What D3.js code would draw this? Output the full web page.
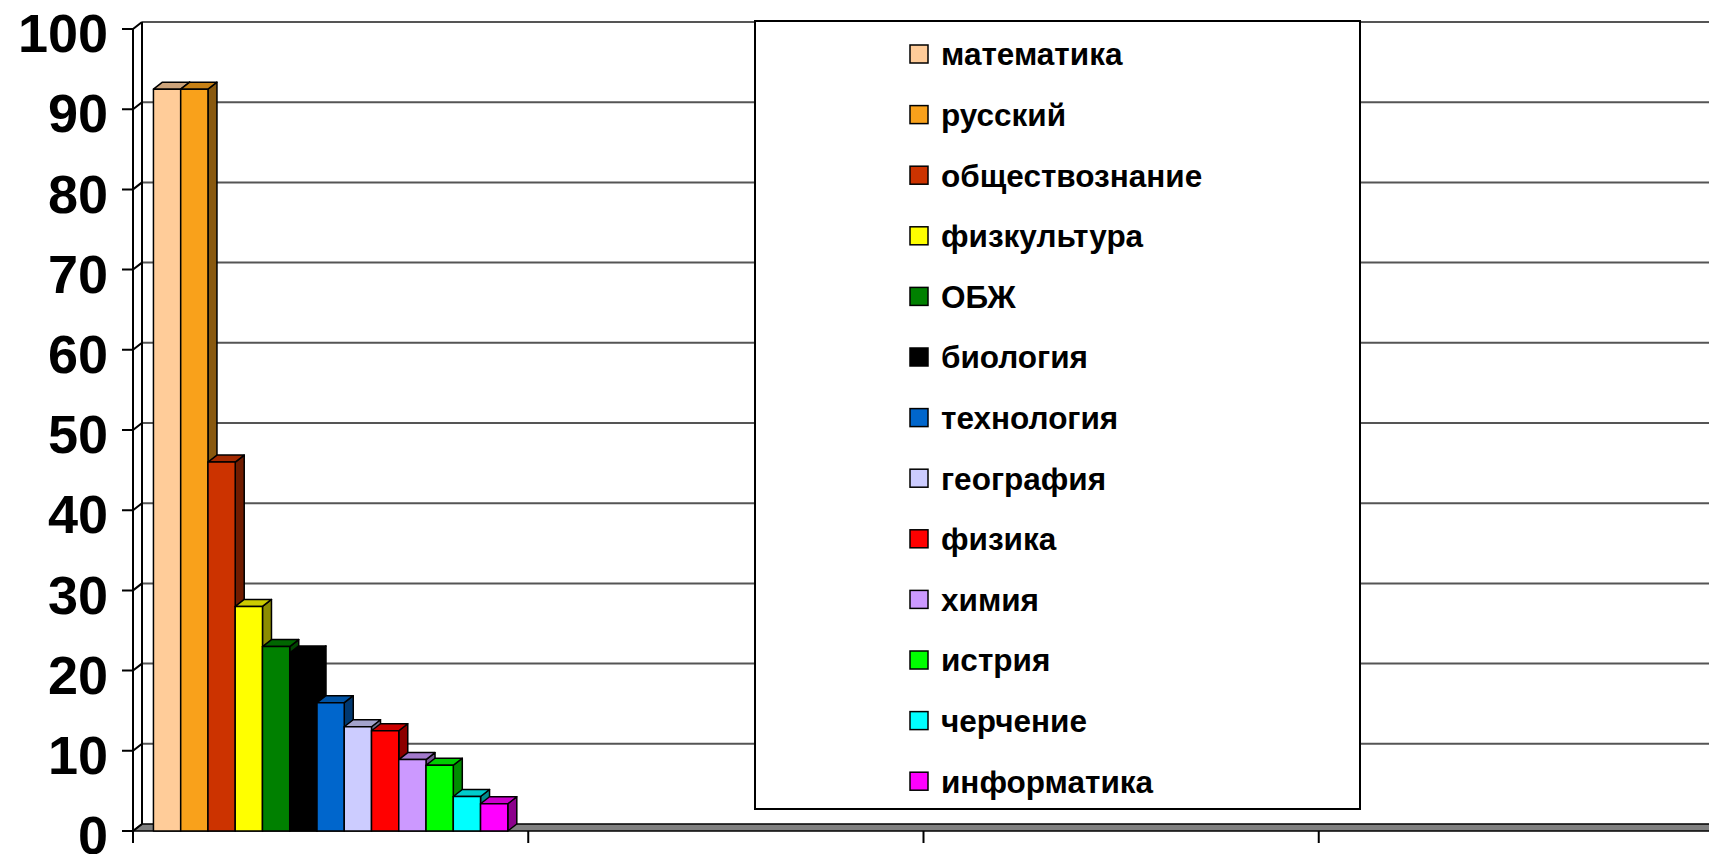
<!DOCTYPE html>
<html>
<head>
<meta charset="utf-8">
<script src="https://cdn.jsdelivr.net/npm/d3@7"></script>
<style>
  body { margin: 0; padding: 0; background: #fff; overflow: hidden; }
  svg { display: block; }
</style>
</head>
<body>
<script>
// 3D-style column chart: subjects in the first category group
const subjects = ["математика", "русский", "обществознание", "физкультура", "ОБЖ", "биология",
  "технология", "география", "физика", "химия", "истрия", "черчение", "информатика"];
const values = [92.5, 92.5, 46, 28, 23, 22.2, 16, 13, 12.5, 8.9, 8.2, 4.3, 3.4];
const colors = ["#FFCC99", "#F9A11B", "#CC3300", "#FFFF00", "#008000", "#000000",
  "#0066CC", "#CCCCFF", "#FF0000", "#CC99FF", "#00FF00", "#00FFFF", "#FF00FF"];
const categories = ["1", "2", "3", "4"];
const yTicks = [0, 10, 20, 30, 40, 50, 60, 70, 80, 90, 100];

const width = 1709, height = 854;
const dx = 9, dy = -7; // depth offset of the 3d box

const svg = d3.select("body").append("svg")
  .attr("width", width)
  .attr("height", height);

const y = d3.scaleLinear().domain([0, 100]).range([831, 29]);
const x = d3.scaleBand().domain(categories).range([133, 1714]);
const xSub = d3.scaleBand().domain(subjects).range([0, x.bandwidth()]).paddingOuter(0.75);
const color = d3.scaleOrdinal().domain(subjects).range(colors);

const x0 = x.range()[0];

// gridlines on the back wall
svg.append("g").selectAll("line")
  .data(yTicks.filter(d => d > 0))
  .join("line")
  .attr("x1", x0 + dx).attr("x2", width)
  .attr("y1", d => y(d) + dy).attr("y2", d => y(d) + dy)
  .attr("stroke", "#555").attr("stroke-width", 2);

// floor
svg.append("polygon")
  .attr("points", [[x0, y(0)], [width + 20, y(0)], [width + 20 + dx, y(0) + dy], [x0 + dx, y(0) + dy]].join(" "))
  .attr("fill", "#808080").attr("stroke", "#000").attr("stroke-width", 1.5);

// side wall
const wall = svg.append("g").attr("stroke", "#000").attr("stroke-width", 2).attr("fill", "none");
wall.append("line").attr("x1", x0).attr("x2", x0).attr("y1", y(100)).attr("y2", y(0) + 12);
wall.append("line").attr("x1", x0 + dx).attr("x2", x0 + dx).attr("y1", y(100) + dy).attr("y2", y(0) + dy);
wall.selectAll("path.tk")
  .data(yTicks)
  .join("path")
  .attr("class", "tk")
  .attr("d", d => `M${x0 - 11},${y(d)}H${x0}L${x0 + dx},${y(d) + dy}`);

// category axis ticks
svg.append("g").selectAll("line")
  .data(categories)
  .join("line")
  .attr("x1", d => x(d)).attr("x2", d => x(d))
  .attr("y1", y(0)).attr("y2", y(0) + 12)
  .attr("stroke", "#000").attr("stroke-width", 2);

// y labels
svg.append("g").selectAll("text")
  .data(yTicks)
  .join("text")
  .attr("x", 108)
  .attr("y", d => y(d))
  .attr("dy", "0.43em")
  .attr("text-anchor", "end")
  .attr("font-family", "Liberation Sans, Arial, sans-serif")
  .attr("font-weight", "bold")
  .attr("font-size", 54)
  .attr("fill", "#000")
  .text(d => d);

// bars, drawn left to right so each one hides the side of the previous
const bars = svg.append("g")
  .attr("stroke", "#000").attr("stroke-width", 1.5).attr("stroke-linejoin", "round");

subjects.forEach((s, i) => {
  const v = values[i];
  const bx = x(categories[0]) + xSub(s);
  const bw = xSub.bandwidth();
  const top = y(v), base = y(0);
  const c = d3.color(color(s));
  const g = bars.append("g");
  // side face
  g.append("polygon")
    .attr("points", [[bx + bw, base], [bx + bw, top], [bx + bw + dx, top + dy], [bx + bw + dx, base + dy]].join(" "))
    .attr("fill", d3.rgb(c.r * 0.55, c.g * 0.55, c.b * 0.55));
  // top face
  g.append("polygon")
    .attr("points", [[bx, top], [bx + bw, top], [bx + bw + dx, top + dy], [bx + dx, top + dy]].join(" "))
    .attr("fill", d3.rgb(c.r * 0.8, c.g * 0.8, c.b * 0.8));
  // front face
  g.append("rect")
    .attr("x", bx).attr("y", top)
    .attr("width", bw).attr("height", base - top)
    .attr("fill", c);
});

// legend
const legend = svg.append("g");
legend.append("rect")
  .attr("x", 755).attr("y", 21)
  .attr("width", 605).attr("height", 788)
  .attr("fill", "#fff").attr("stroke", "#000").attr("stroke-width", 2);

const item = legend.selectAll("g.item")
  .data(subjects)
  .join("g")
  .attr("class", "item")
  .attr("transform", (d, i) => `translate(910,${54 + i * 60.6})`);

item.append("rect")
  .attr("x", 0).attr("y", -9)
  .attr("width", 18).attr("height", 18)
  .attr("fill", d => color(d))
  .attr("stroke", "#000").attr("stroke-width", 1.5);

item.append("text")
  .attr("x", 31)
  .attr("y", 0)
  .attr("dy", "0.36em")
  .attr("font-family", "Liberation Sans, Arial, sans-serif")
  .attr("font-weight", "bold")
  .attr("font-size", 31.5)
  .attr("fill", "#000")
  .text(d => d);
</script>
</body>
</html>
